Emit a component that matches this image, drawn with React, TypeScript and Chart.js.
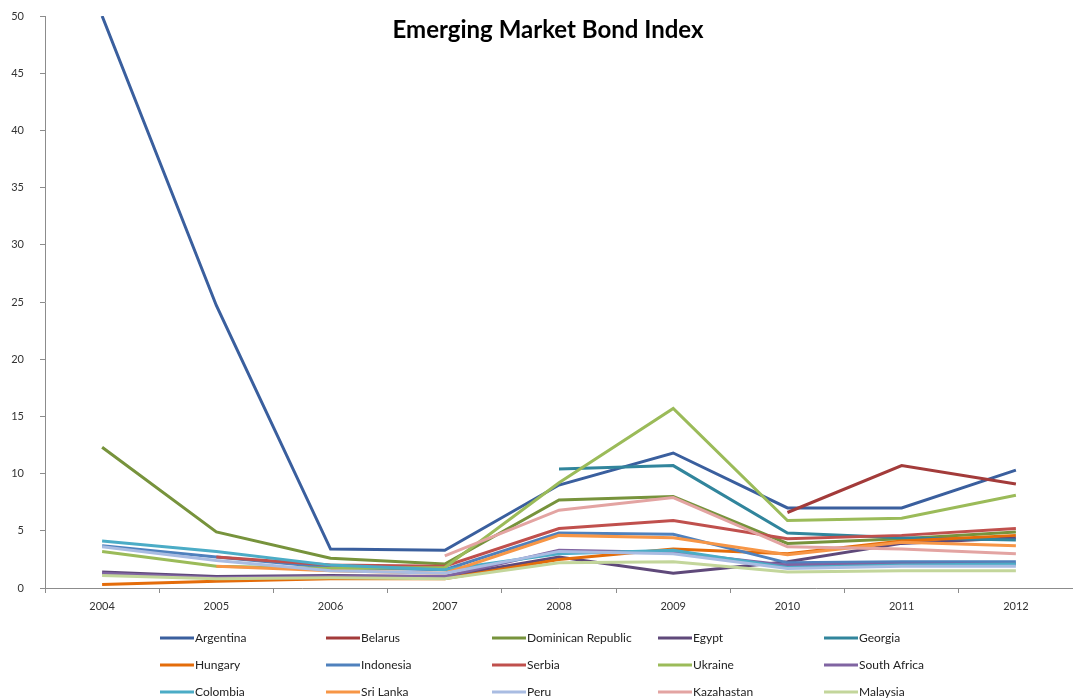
import { useEffect, useRef } from 'react';
import { Chart, registerables } from 'chart.js';
Chart.register(...registerables);

const titleText = 'Emerging Market Bond Index';
const years = ['2004', '2005', '2006', '2007', '2008', '2009', '2010', '2011', '2012'];
const yTicks = [0, 5, 10, 15, 20, 25, 30, 35, 40, 45, 50];

const countries = [
  'Argentina', 'Belarus', 'Dominican Republic', 'Egypt', 'Georgia',
  'Hungary', 'Indonesia', 'Serbia', 'Ukraine', 'South Africa',
  'Colombia', 'Sri Lanka', 'Peru', 'Kazahastan', 'Malaysia',
];
const colors = [
  '#3A5F9E', '#A33B3A', '#77933C', '#5F497A', '#31859C',
  '#E46C0A', '#4F81BD', '#C0504D', '#9BBB59', '#8064A2',
  '#4BACC6', '#F79646', '#A9BCE2', '#E3A4A2', '#C3D69B',
];

const argentina = [50, 24.7, 3.4, 3.3, 9.0, 11.8, 7.0, 7.0, 10.3];
const belarus = [null, null, null, null, null, null, 6.6, 10.7, 9.1];
const dominican = [12.3, 4.9, 2.6, 2.1, 7.7, 8.0, 3.9, 4.3, 4.9];
const egypt = [1.4, 1.0, 1.1, 1.0, 2.7, 1.3, 2.3, 3.9, 4.4];
const georgia = [null, null, null, null, 10.4, 10.7, 4.8, 4.4, 4.2];
const hungary = [0.3, 0.6, 0.8, 0.8, 2.5, 3.4, 3.0, 4.1, 4.6];
const indonesia = [3.7, 2.7, 1.8, 1.6, 4.8, 4.7, 2.2, 2.3, 2.3];
const serbia = [null, 2.7, 2.0, 1.9, 5.2, 5.9, 4.3, 4.6, 5.2];
const ukraine = [3.2, 1.9, 1.7, 1.8, 9.2, 15.7, 5.9, 6.1, 8.1];
const southAfrica = [1.3, 0.9, 1.0, 1.0, 3.3, 3.1, 2.0, 2.1, 2.1];
const colombia = [4.1, 3.2, 2.0, 1.6, 3.0, 3.3, 1.8, 2.0, 2.1];
const sriLanka = [null, 1.9, 1.5, 1.3, 4.6, 4.4, 2.9, 4.0, 3.7];
const peru = [3.6, 2.4, 1.5, 1.3, 3.2, 3.0, 1.7, 1.9, 1.9];
const kazahastan = [null, null, null, 2.8, 6.8, 7.9, 3.6, 3.4, 3.0];
const malaysia = [1.1, 0.8, 0.9, 0.8, 2.2, 2.3, 1.4, 1.5, 1.5];

const series = [
  argentina, belarus, dominican, egypt, georgia,
  hungary, indonesia, serbia, ukraine, southAfrica,
  colombia, sriLanka, peru, kazahastan, malaysia,
];

const FONT = 'Lato, "Open Sans", sans-serif';

const overlay = {
  id: 'overlay',
  afterDraw(chart: any) {
    const ctx = chart.ctx;
    ctx.save();
    ctx.font = `bold 24px ${FONT}`;
    ctx.fillStyle = '#000';
    ctx.textAlign = 'center';
    ctx.textBaseline = 'middle';
    ctx.fillText(titleText, 548, 30);

    ctx.font = `12px ${FONT}`;
    ctx.textAlign = 'left';
    chart.data.datasets.forEach((ds: any, i: number) => {
      const col = i % 5;
      const row = Math.floor(i / 5);
      const x = 160 + col * 166;
      const y = 638 + row * 27;
      ctx.strokeStyle = ds.borderColor;
      ctx.lineWidth = 3;
      ctx.beginPath();
      ctx.moveTo(x, y);
      ctx.lineTo(x + 34, y);
      ctx.stroke();
      ctx.fillStyle = '#222';
      ctx.fillText(ds.label, x + 35, y);
    });
    ctx.restore();
  },
};

export default function App() {
  const ref = useRef<HTMLCanvasElement>(null);
  useEffect(() => {
    document.body.style.margin = '0';
    const n = series.length;
    const chart = new Chart(ref.current!, {
      type: 'line',
      data: {
        labels: years,
        datasets: series.map((d, i) => ({
          label: countries[i],
          data: d,
          borderColor: colors[i],
          backgroundColor: colors[i],
          borderWidth: 3,
          pointRadius: 0,
          tension: 0,
          spanGaps: false,
          order: n - i,
        })),
      },
      options: {
        animation: false,
        responsive: false,
        layout: { padding: { top: 16, left: 0, right: 0, bottom: 0 } },
        plugins: {
          legend: { display: false },
          tooltip: { enabled: false },
          title: { display: false },
        },
        scales: {
          x: {
            type: 'category',
            offset: true,
            grid: { offset: true, drawOnChartArea: false, drawTicks: true, tickLength: 5, color: '#8C8C8C' },
            border: { color: '#8C8C8C', width: 1 },
            ticks: { color: '#333', font: { size: 11, family: FONT }, padding: 7, maxRotation: 0 },
            afterFit: (s: any) => { s.height = 111; },
          },
          y: {
            min: 0,
            max: 50,
            afterBuildTicks: (s: any) => { s.ticks = yTicks.map((v) => ({ value: v })); },
            grid: { drawOnChartArea: false, drawTicks: true, tickLength: 5, color: '#8C8C8C' },
            border: { color: '#8C8C8C', width: 1 },
            ticks: { color: '#333', font: { size: 11, family: FONT }, padding: 16 },
            afterFit: (s: any) => { s.width = 45; s.paddingTop = 0; },
          },
        },
      },
      plugins: [overlay],
    } as any);
    return () => chart.destroy();
  }, []);
  return (
    <div style={{ width: 1073, height: 699 }}>
      <canvas ref={ref} width={1073} height={699} style={{ display: 'block' }} />
    </div>
  );
}
